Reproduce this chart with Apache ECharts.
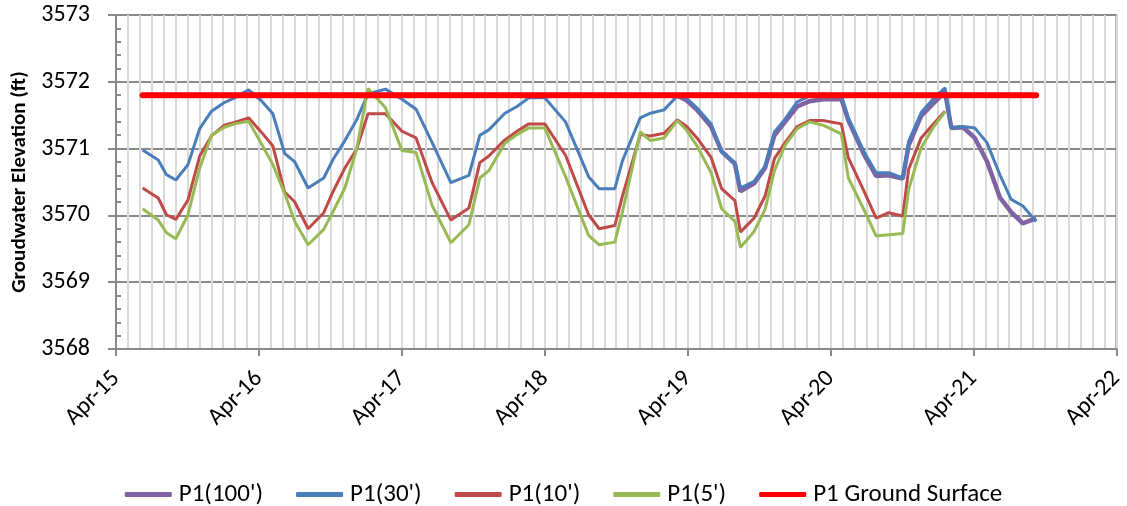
<!DOCTYPE html>
<html>
<head>
<meta charset="utf-8">
<script src="https://cdn.jsdelivr.net/npm/echarts@6/dist/echarts.min.js"></script>
<style>
html,body{margin:0;padding:0;background:#fff;}
#chart{width:1127px;height:506px;}
</style>
</head>
<body>
<div id="chart"></div>
<script>
// ---- data ----
const dates = ['2015-06-08','2015-07-18','2015-08-08','2015-09-01','2015-10-02','2015-11-01','2015-12-01','2016-01-03','2016-01-29','2016-03-05','2016-04-06','2016-05-06','2016-06-05','2016-07-01','2016-08-04','2016-09-13','2016-10-07','2016-11-06','2016-12-06','2017-01-04','2017-02-18','2017-04-01','2017-05-07','2017-06-17','2017-08-04','2017-09-19','2017-10-17','2017-11-09','2017-12-20','2018-01-20','2018-02-19','2018-04-01','2018-05-24','2018-07-22','2018-08-18','2018-09-27','2018-10-16','2018-12-01','2018-12-27','2019-01-31','2019-03-06','2019-03-30','2019-04-25','2019-05-31','2019-06-27','2019-07-31','2019-08-14','2019-09-18','2019-10-16','2019-11-09','2019-12-06','2020-01-06','2020-02-07','2020-03-12','2020-04-28','2020-05-16','2020-06-26','2020-07-26','2020-08-27','2020-10-02','2020-10-17','2020-11-18','2020-12-18','2021-01-18','2021-02-03','2021-03-05','2021-04-04','2021-05-05','2021-06-07','2021-07-06','2021-08-05','2021-09-08'];

const p1_100 = [null,null,null,null,null,null,null,null,null,null,null,null,null,null,null,null,null,null,null,null,null,null,null,null,null,null,null,null,null,null,null,null,null,null,null,null,null,null,null,null,
  3571.79,3571.72,3571.58,3571.33,3570.96,3570.77,3570.36,3570.48,3570.71,3571.20,3571.40,3571.63,3571.71,3571.74,3571.74,3571.42,3570.90,3570.59,3570.60,3570.55,3571.05,3571.49,3571.67,3571.85,3571.31,3571.32,3571.16,3570.81,3570.27,3570.05,3569.88,3569.96];

const p1_30 = [3570.98,3570.83,3570.61,3570.53,3570.76,3571.30,3571.56,3571.69,3571.76,3571.88,3571.72,3571.52,3570.93,3570.80,3570.41,3570.56,3570.84,3571.12,3571.43,3571.82,3571.89,3571.74,3571.59,3571.09,3570.49,3570.60,3571.20,3571.28,3571.53,3571.63,3571.76,3571.76,3571.40,3570.58,3570.40,3570.40,3570.81,3571.46,3571.53,3571.58,3571.79,3571.75,3571.61,3571.37,3570.95,3570.79,3570.41,3570.51,3570.74,3571.25,3571.44,3571.70,3571.79,3571.82,3571.80,3571.46,3570.94,3570.64,3570.64,3570.56,3571.11,3571.54,3571.74,3571.91,3571.31,3571.33,3571.31,3571.09,3570.61,3570.24,3570.14,3569.91];

const p1_10 = [3570.41,3570.26,3570.01,3569.94,3570.23,3570.89,3571.19,3571.35,3571.39,3571.46,3571.25,3571.04,3570.35,3570.20,3569.80,3570.04,3570.36,3570.71,3570.99,3571.52,3571.52,3571.26,3571.16,3570.49,3569.93,3570.11,3570.79,3570.89,3571.13,3571.26,3571.37,3571.37,3570.90,3570.01,3569.80,3569.85,3570.28,3571.21,3571.19,3571.23,3571.43,3571.33,3571.16,3570.87,3570.40,3570.22,3569.75,3569.96,3570.29,3570.85,3571.09,3571.33,3571.42,3571.42,3571.37,3570.86,3570.35,3569.96,3570.04,3569.99,3570.69,3571.16,3571.36,3571.56,null,null,null,null,null,null,null,null];

const p1_5 = [3570.10,3569.93,3569.74,3569.65,3570.01,3570.71,3571.20,3571.32,3571.37,3571.41,3571.08,3570.76,3570.33,3569.91,3569.56,3569.79,3570.06,3570.41,3570.99,3571.90,3571.61,3570.97,3570.94,3570.15,3569.59,3569.86,3570.56,3570.67,3571.08,3571.21,3571.31,3571.31,3570.58,3569.70,3569.56,3569.60,3570.04,3571.25,3571.12,3571.16,3571.42,3571.27,3571.04,3570.64,3570.10,3569.91,3569.52,3569.76,3570.09,3570.67,3571.05,3571.30,3571.40,3571.35,3571.22,3570.56,3570.07,3569.69,3569.71,3569.73,3570.39,3571.01,3571.31,3571.55,null,null,null,null,null,null,null,null];

const groundDates = ['2015-06-08','2021-09-08'];
const groundSurface = [3571.8, 3571.8];

const xTickLabels = ['Apr-15','Apr-16','Apr-17','Apr-18','Apr-19','Apr-20','Apr-21','Apr-22'];
const axisStart = '2015-04-01';
const axisEnd = '2022-04-01';

const seriesNames = ["P1(100')","P1(30')","P1(10')","P1(5')","P1 Ground Surface"];

// ---- helpers ----
function dayNum(s){
  const p = s.split('-').map(Number);
  const a = axisStart.split('-').map(Number);
  return (Date.UTC(p[0],p[1]-1,p[2]) - Date.UTC(a[0],a[1]-1,a[2]))/86400000;
}
function pairs(ds, vals){ return ds.map((d,i)=>[dayNum(d), vals[i]]); }

const xMax = dayNum(axisEnd);
const xInterval = xMax/7;
const FONT = "Carlito, 'Liberation Sans', Arial, sans-serif";
const gridGray = '#898989';

const chart = echarts.init(document.getElementById('chart'), null, {renderer:'canvas'});

const option = {
  animation:false,
  backgroundColor:'#fff',
  grid:{left:116, right:7, top:15, bottom:157, show:true, borderColor:gridGray, borderWidth:2, backgroundColor:'transparent'},
  legend:{
    top:477, left:'center', itemWidth:47, itemHeight:5, itemGap:33,
    icon:'roundRect',
    textStyle:{fontFamily:FONT, fontSize:25, color:'#000', padding:[0,0,0,2]},
    data:seriesNames
  },
  xAxis:{
    type:'value', min:0, max:xMax, interval:xInterval,
    axisLine:{show:true, lineStyle:{color:gridGray, width:2}},
    axisTick:{show:true, length:7, lineStyle:{color:gridGray, width:2}},
    minorTick:{show:false, splitNumber:12},
    splitLine:{show:true, lineStyle:{color:'#D9D9D9', width:2}},
    minorSplitLine:{show:true, lineStyle:{color:'#D9D9D9', width:2}},
    axisLabel:{
      rotate:45, margin:26, fontFamily:FONT, fontSize:24, color:'#000',
      formatter:function(v){ return xTickLabels[Math.round(v/xInterval)] || ''; }
    }
  },
  yAxis:[{
    type:'value', min:3568, max:3573, interval:1,
    name:'Groudwater Elevation (ft)', nameLocation:'middle', nameGap:86, nameRotate:90,
    nameTextStyle:{fontFamily:FONT, fontSize:21, fontWeight:'bold', color:'#000', padding:[0,0,0,0]},
    axisLine:{show:true, lineStyle:{color:gridGray, width:2}},
    axisTick:{show:true, inside:true, length:5, lineStyle:{color:gridGray, width:2}},
    minorTick:{show:true, splitNumber:5, length:5, lineStyle:{color:gridGray, width:2}},
    splitLine:{show:true, lineStyle:{color:gridGray, width:2}},
    axisLabel:{margin:26, fontFamily:FONT, fontSize:24, color:'#000', formatter:function(v){ return String(v); }}
  },{
    type:'value', min:3568, max:3573, interval:1, position:'left',
    axisLine:{show:false}, axisLabel:{show:false}, splitLine:{show:false},
    axisTick:{show:true, inside:false, length:8, lineStyle:{color:gridGray, width:2}}
  }],
  series:[
    {name:seriesNames[0], type:'line', data:pairs(dates,p1_100), showSymbol:false, symbol:'none', connectNulls:false,
      lineStyle:{color:'#7F63A2', width:4.5}, itemStyle:{color:'#7F63A2'}},
    {name:seriesNames[1], type:'line', data:pairs(dates,p1_30), showSymbol:false, symbol:'none',
      lineStyle:{color:'#4A7EBB', width:3}, itemStyle:{color:'#4A7EBB'}},
    {name:seriesNames[2], type:'line', data:pairs(dates,p1_10), showSymbol:false, symbol:'none',
      lineStyle:{color:'#BE4B48', width:3}, itemStyle:{color:'#BE4B48'}},
    {name:seriesNames[3], type:'line', data:pairs(dates,p1_5), showSymbol:false, symbol:'none',
      lineStyle:{color:'#98B954', width:3}, itemStyle:{color:'#98B954'}},
    {name:seriesNames[4], type:'line', data:pairs(groundDates,groundSurface), showSymbol:false, symbol:'none',
      lineStyle:{color:'#FF0000', width:6, cap:'round'}, itemStyle:{color:'#FF0000'}}
  ]
};
chart.setOption(option);
</script>
</body>
</html>
